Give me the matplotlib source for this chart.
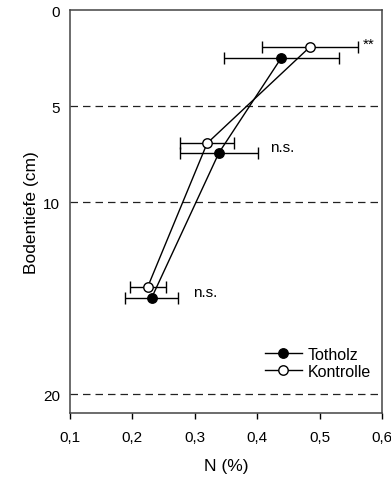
import matplotlib
matplotlib.use("Agg")
import matplotlib.pyplot as plt
from matplotlib.lines import Line2D

plt.rcParams['font.family'] = ['Liberation Sans', 'DejaVu Sans']

# Data
depth_tot = [2.48, 7.43, 15.0]
n_tot = [0.439, 0.339, 0.231]
err_tot = [0.092, 0.062, 0.043]

depth_kon = [1.91, 6.94, 14.41]
n_kon = [0.485, 0.320, 0.225]
err_kon = [0.077, 0.043, 0.029]

sig_labels = ["**", "n.s.", "n.s."]
sig_x = [0.570, 0.421, 0.297]
sig_y = [1.77, 7.14, 14.69]

grid_depths = [5, 10, 20]
xticks = [0.1, 0.2, 0.3, 0.4, 0.5, 0.6]
xtick_labels = ["0,1", "0,2", "0,3", "0,4", "0,5", "0,6"]
yticks = [0, 5, 10, 20]

fig = plt.figure(figsize=(3.91, 4.81), dpi=100)
ax = fig.add_axes([0.1783, 0.1387, 0.7987, 0.8384])

for d in grid_depths:
    ax.axhline(d, color='#222222', lw=0.9, ls=(0, (6, 4)), zorder=1)

ax.errorbar(n_tot, depth_tot, xerr=err_tot, fmt='-o', color='black', mfc='black',
            mec='black', ms=6.8, lw=1.0, elinewidth=1.0, capsize=4.5, capthick=1.0,
            zorder=3)
ax.errorbar(n_kon, depth_kon, xerr=err_kon, fmt='-o', color='black', mfc='white',
            mec='black', ms=6.8, lw=1.0, elinewidth=1.0, capsize=4.5, capthick=1.0,
            zorder=4)

for s, x, y in zip(sig_labels, sig_x, sig_y):
    ax.text(x, y, s, fontsize=11, ha='left', va='center')

ax.set_xlim(0.1, 0.6)
ax.set_ylim(21.0, 0)
ax.set_xticks(xticks)
ax.set_xticklabels(xtick_labels)
ax.set_yticks(yticks)
ax.tick_params(axis='x', direction='out', length=4, width=1, pad=8, labelsize=11)
ax.tick_params(axis='y', direction='out', length=0, pad=7, labelsize=11)

for sp in ax.spines.values():
    sp.set_color('#444444')
    sp.set_linewidth(1.1)

ax.set_xlabel('N (%)', fontsize=12.5, labelpad=10)
ax.set_ylabel('Bodentiefe (cm)', fontsize=12.5, labelpad=3)

handles = [
    Line2D([], [], color='black', lw=1.0, marker='o', mfc='black', mec='black', ms=6.8),
    Line2D([], [], color='black', lw=1.0, marker='o', mfc='white', mec='black', ms=6.8),
]
ax.legend(handles, ['Totholz', 'Kontrolle'], loc='center left',
          bbox_to_anchor=(0.625, 0.125), frameon=False, fontsize=11.5,
          handlelength=2.3, handletextpad=0.4, labelspacing=0.15,
          borderpad=0, borderaxespad=0)

fig.savefig('out.png', dpi=100)
